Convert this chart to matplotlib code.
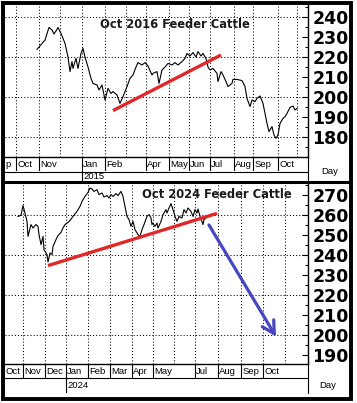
import matplotlib
matplotlib.use("Agg")
import matplotlib.pyplot as plt
from matplotlib.ticker import MultipleLocator

# ---------------- data ----------------
# Oct 2016 Feeder Cattle (trading-day index, price)
top_days = [32, 40, 44, 47, 49, 52, 53, 56, 60, 63, 65, 67, 68, 71, 73, 76, 78, 80, 83,
            86, 88, 92, 94, 97, 100, 103, 106, 108, 112, 115, 118, 122, 125, 128, 131,
            133, 137, 140, 143, 147, 148, 152, 154, 157, 160, 163, 167, 170, 173, 177,
            180, 182, 185, 188, 191, 193, 196, 198, 201, 203, 205, 208, 212, 213, 216,
            218, 221, 223, 227, 228, 232, 237, 240, 242, 245, 247, 250, 252, 255, 258,
            260, 262, 264, 267, 269, 271, 273, 275, 278, 280, 282, 285, 288, 290, 292]
top_prices = [223.8, 228.5, 234.8, 233.5, 231.5, 233.8, 234.8, 231.8, 226.8, 220.0, 212.7,
              217.7, 214.3, 219.3, 214.3, 221.8, 224.3, 220.0, 215.0, 209.3, 206.8, 206.0,
              203.5, 206.0, 198.5, 204.3, 201.8, 202.7, 201.0, 196.8, 200.2, 205.2, 209.3,
              211.0, 215.0, 217.2, 216.0, 217.2, 215.5, 211.0, 211.8, 212.7, 206.8, 213.5,
              215.0, 216.8, 216.0, 217.2, 216.0, 217.7, 219.3, 221.8, 220.5, 222.2, 220.0,
              222.7, 220.5, 221.8, 219.3, 215.0, 213.5, 214.3, 211.8, 207.7, 212.7, 211.0,
              207.7, 205.2, 206.8, 208.8, 208.8, 208.2, 205.2, 199.3, 195.2, 198.5, 197.7,
              199.3, 200.5, 196.8, 191.8, 186.8, 182.7, 185.2, 181.0, 179.3, 181.0, 186.8,
              189.3, 190.2, 191.8, 194.8, 195.5, 193.5, 194.3]
top_trend_days = [108, 216]
top_trend_prices = [193.2, 221.0]
top_month_starts = [-11, 11, 34, 55, 77, 100, 121, 141, 164, 184, 205, 229, 248, 273, 292]
# first label is the visible tail of a "Sep" cut by the left edge
top_month_labels = ["p", "Oct", "Nov", "", "Jan", "Feb", "", "Apr", "May", "Jun", "Jul",
                    "Aug", "Sep", "Oct", ""]
top_year_day, top_year_label = 77, "2015"
top_title = "Oct 2016 Feeder Cattle"
top_yticks = [180, 190, 200, 210, 220, 230, 240]

# Oct 2024 Feeder Cattle
bot_days = [13, 16, 18, 20, 22, 23, 26, 28, 31, 33, 34, 36, 38, 39, 42, 43, 45, 47, 48,
            51, 53, 56, 58, 60, 63, 65, 68, 72, 75, 77, 80, 83, 85, 87, 89, 92, 94, 97,
            99, 102, 104, 106, 108, 111, 113, 116, 118, 120, 122, 124, 126, 128, 130, 133,
            135, 137, 139, 142, 144, 146, 147, 148, 150, 152, 153, 156, 158, 161, 162, 164,
            166, 168, 170, 172, 174, 177, 179, 181, 183, 186, 188, 190, 192, 193, 195, 197,
            198, 199, 201]
bot_prices = [259.3, 259.8, 264.7, 261.0, 256.8, 249.3, 255.2, 253.5, 255.2, 254.3, 250.2,
              245.2, 249.3, 242.7, 240.2, 236.5, 241.0, 240.2, 244.3, 247.7, 249.7, 251.3,
              253.5, 255.2, 256.3, 257.3, 259.3, 261.8, 264.3, 266.8, 269.3, 271.3, 273.5,
              273.0, 271.8, 272.7, 270.2, 271.0, 269.0, 269.7, 268.5, 270.2, 269.3, 270.7,
              269.7, 271.8, 269.3, 264.3, 259.3, 257.7, 254.3, 256.8, 252.7, 250.2, 249.3,
              252.7, 255.2, 259.3, 260.2, 258.5, 255.2, 256.0, 254.3, 256.0, 253.5, 256.8,
              260.2, 262.7, 261.0, 263.5, 265.7, 262.7, 259.3, 256.8, 259.3, 258.5, 262.7,
              261.0, 263.5, 261.8, 259.3, 262.7, 261.0, 263.0, 259.3, 256.8, 255.2, 257.7,
              258.5]
bot_trend_days = [43, 212]
bot_trend_prices = [234.7, 260.8]
bot_arrow_days = [204, 271]
bot_arrow_prices = [255.0, 199.2]
bot_month_starts = [-4, 18, 40, 61, 83, 105, 127, 148, 169, 190, 213, 236, 258, 280]
bot_month_labels = ["Oct", "Nov", "Dec", "Jan", "Feb", "Mar", "Apr", "May", "", "Jul",
                    "Aug", "Sep", "Oct", ""]
bot_year_day, bot_year_label = 61, "2024"
bot_title = "Oct 2024 Feeder Cattle"
bot_yticks = [190, 200, 210, 220, 230, 240, 250, 260, 270]

# ---------------- layout ----------------
W, H = 357, 403
fig = plt.figure(figsize=(W / 100, H / 100), dpi=100)
fig.patch.set_facecolor("white")

PX0, PX1 = 5, 308  # plot area horizontal extent in pixels
NDAYS = PX1 - PX0


def px_axes(x0, y0, x1, y1, z=1):
    a = fig.add_axes([x0 / W, 1 - y1 / H, (x1 - x0) / W, (y1 - y0) / H], zorder=z)
    return a


LBL_FONT = dict(family="Liberation Sans", size=6.8, color="black")
DOT = (0, (1, 2))


def panel(y0, y1, ylim, days, prices, tdays, tprices, starts, labels, year_day, year_label,
          yticks, grid_vals, row1, row2):
    ax = px_axes(PX0, y0, PX1, y1)
    ax.set_xlim(0, NDAYS)
    ax.set_ylim(*ylim)
    for s in ["left", "top"]:
        ax.spines[s].set_visible(False)
    for s in ["bottom", "right"]:
        ax.spines[s].set_linewidth(1.0)
    ax.set_xticks([])
    ax.yaxis.tick_right()
    ax.set_yticks(yticks)
    ax.yaxis.set_minor_locator(MultipleLocator(5))
    ax.tick_params(axis="y", which="major", direction="in", length=4, width=0.8, pad=3,
                   labelsize=12.5, right=True, left=False)
    ax.tick_params(axis="y", which="minor", direction="in", length=2.5, width=0.8,
                   right=True, left=False)
    for lb in ax.get_yticklabels():
        lb.set_fontweight("bold")
        lb.set_family("DejaVu Sans")
    for g in grid_vals:
        ax.axhline(g, color="black", lw=0.75, ls=DOT, zorder=1)
    for s in starts:
        if 0 < s < NDAYS:
            ax.axvline(s, color="black", lw=0.75, ls=DOT, zorder=1)
    ax.plot(days, prices, color="black", lw=0.8, zorder=3)
    ax.plot(tdays, tprices, color="#e02828", lw=2.4, solid_capstyle="butt", zorder=4)

    # month row
    mr = px_axes(PX0, y1, PX1, row1)
    mr.set_xlim(0, NDAYS)
    mr.set_ylim(0, 1)
    mr.axis("off")
    for s, lab in zip(starts, labels):
        if lab:
            xs = max(s + 1.2, 0.6)
            mr.text(xs, 0.45, lab, ha="left", va="center", clip_on=True, **LBL_FONT)
            if 0 < s < NDAYS:
                mr.axvline(s, color="black", lw=0.8)
    # year row
    yr = px_axes(PX0, row1, PX1, row2)
    yr.set_xlim(0, NDAYS)
    yr.set_ylim(0, 1)
    yr.axis("off")
    yr.text(year_day + 1.2, 0.5, year_label, ha="left", va="center", **LBL_FONT)
    yr.axvline(year_day, color="black", lw=0.8)
    return ax


top = panel(5, 157, (170, 246), top_days, top_prices, top_trend_days, top_trend_prices,
            top_month_starts, top_month_labels, top_year_day, top_year_label,
            top_yticks, [180, 200, 220, 240], 171.5, 181)
bot = panel(184, 364, (185.5, 275.5), bot_days, bot_prices, bot_trend_days, bot_trend_prices,
            bot_month_starts, bot_month_labels, bot_year_day, bot_year_label,
            bot_yticks, [200, 220, 240, 260], 378, 393)

bot.annotate("", xy=(bot_arrow_days[1], bot_arrow_prices[1]),
             xytext=(bot_arrow_days[0], bot_arrow_prices[0]),
             arrowprops=dict(arrowstyle="->,head_length=0.55,head_width=0.3",
                             color="#4646c0", lw=2.3, mutation_scale=16,
                             shrinkA=0, shrinkB=0), zorder=5)

# overlay in pixel coordinates for frame lines and titles
ov = fig.add_axes([0, 0, 1, 1], zorder=10)
ov.set_xlim(0, W)
ov.set_ylim(H, 0)
ov.axis("off")
ov.patch.set_alpha(0)

# titles
ov.text(175, 25, top_title, ha="center", va="center", fontsize=8.3, fontweight="bold",
        family="DejaVu Sans", color="#1a1a1a")
ov.text(216.5, 194, bot_title, ha="center", va="center", fontsize=8.3, fontweight="bold",
        family="DejaVu Sans", color="#1a1a1a")

# row lines
lw_thin = 0.8
ov.plot([PX0, PX1], [171.5, 171.5], color="black", lw=lw_thin)
ov.plot([PX0, PX1], [378, 378], color="black", lw=lw_thin)
# right vertical separators through label rows
ov.plot([PX1, PX1], [157, 182], color="black", lw=lw_thin)
ov.plot([PX1, PX1], [364, 393], color="black", lw=lw_thin)
# panel separator
ov.plot([3, 351], [182.3, 182.3], color="black", lw=2.2, solid_capstyle="butt")
# Day labels
ov.text(330, 171, "Day", ha="center", va="center", **LBL_FONT)
ov.text(328, 386, "Day", ha="center", va="center", **LBL_FONT)
# outer frame
ov.plot([3, 350.5, 350.5, 3, 3], [2.8, 2.8, 398.5, 398.5, 2.8], color="black", lw=2.8,
        solid_joinstyle="miter")

fig.savefig("out.png", dpi=100, facecolor="white")
